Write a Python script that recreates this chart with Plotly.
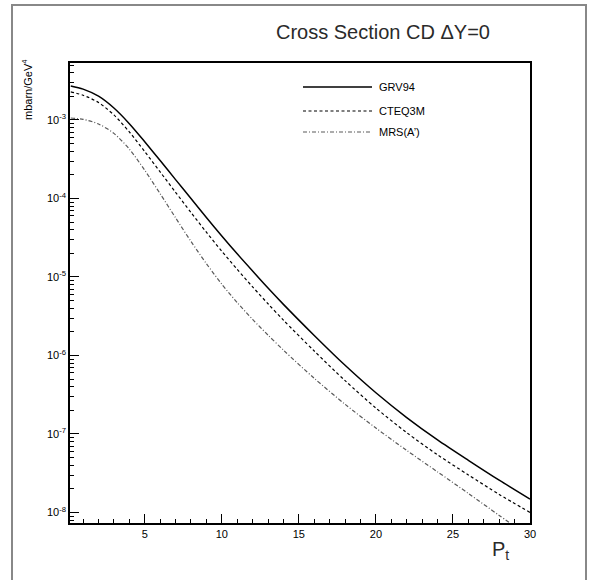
import plotly.graph_objects as go

# Transverse momentum grid (GeV)
pt = [0.2, 1, 2, 3, 4, 5, 6, 7, 8, 9, 10, 11, 12, 13, 14, 16, 18, 20, 22, 24, 26, 28, 30]

# Cross sections in mbarn/GeV^4 for three parton distribution sets
grv94 = [2.71e-3, 2.47e-3, 2.01e-3, 1.42e-3, 8.97e-4, 5.28e-4, 3.04e-4, 1.74e-4, 9.98e-5,
         5.71e-5, 3.33e-5, 1.97e-5, 1.19e-5, 7.23e-6, 4.48e-6, 1.80e-6, 7.50e-7, 3.35e-7,
         1.62e-7, 8.41e-8, 4.62e-8, 2.58e-8, 1.48e-8]
cteq3m = [2.28e-3, 2.07e-3, 1.67e-3, 1.16e-3, 7.05e-4, 3.96e-4, 2.18e-4, 1.20e-4, 6.64e-5,
          3.72e-5, 2.13e-5, 1.25e-5, 7.48e-6, 4.56e-6, 2.82e-6, 1.14e-6, 4.78e-7, 2.14e-7,
          1.04e-7, 5.43e-8, 3.01e-8, 1.70e-8, 1.00e-8]
mrs_a = [1.06e-3, 1.02e-3, 8.89e-4, 6.75e-4, 4.26e-4, 2.29e-4, 1.15e-4, 5.68e-5, 2.84e-5,
         1.48e-5, 8.11e-6, 4.72e-6, 2.88e-6, 1.82e-6, 1.17e-6, 5.12e-7, 2.39e-7, 1.19e-7,
         6.18e-8, 3.29e-8, 1.75e-8, 9.18e-9, 4.82e-9]

series_names = ["GRV94", "CTEQ3M", "MRS(A\u2019)"]
x_ticks = [5, 10, 15, 20, 25, 30]
y_exponents = [-8, -7, -6, -5, -4, -3]

styles = [
    dict(color="black", width=1.5, dash="solid"),
    dict(color="black", width=1.2, dash="3px,2.5px"),
    dict(color="#5a5a5a", width=1.2, dash="4px,2px,1px,2px"),
]

fig = go.Figure()
for name, ys, st in zip(series_names, [grv94, cteq3m, mrs_a], styles):
    fig.add_trace(go.Scatter(x=pt, y=ys, mode="lines", name=name,
                             line=dict(shape="spline", smoothing=0.8, **st)))

font_main = "Liberation Sans, Arial, sans-serif"

fig.update_layout(
    width=589, height=580,
    margin=dict(l=70, r=59, t=63, b=57),
    paper_bgcolor="white", plot_bgcolor="white",
    showlegend=False,
    font=dict(family=font_main, color="black", size=11),
)

fig.update_xaxes(
    range=[0.15, 30], showgrid=False, zeroline=False,
    showline=True, linecolor="black", linewidth=1.5, mirror=True,
    ticks="inside", ticklen=9, tickwidth=1.3, tickcolor="black",
    tickvals=x_ticks, ticktext=[str(v) for v in x_ticks],
    tickfont=dict(size=11),
    minor=dict(ticks="inside", ticklen=4, tickwidth=1, tickcolor="black",
               dtick=1, tick0=0, showgrid=False),
)

minor_y = [m * 10.0 ** e for e in range(-9, -1) for m in range(2, 10)]
fig.update_yaxes(
    type="log", range=[-8.134, -2.274], showgrid=False, zeroline=False,
    showline=True, linecolor="black", linewidth=1.5, mirror=True,
    ticks="inside", ticklen=9, tickwidth=1.3, tickcolor="black",
    tickvals=[10.0 ** e for e in y_exponents],
    ticktext=["10<sup>%d</sup>" % e for e in y_exponents],
    tickfont=dict(size=11),
    minor=dict(ticks="inside", ticklen=4, tickwidth=1, tickcolor="black",
               tickvals=minor_y, showgrid=False),
)

# plot-area pixel geometry used to place decorations in paper units
L, T, W, H = 70, 63, 460, 460


def px(x):
    return (x - L) / W


def py(y):
    return (T + H - y) / H


# outer frame of the canvas
fig.add_shape(type="rect", xref="paper", yref="paper",
              x0=px(12), x1=px(586), y0=py(600), y1=py(5),
              line=dict(color="#888888", width=2), layer="below")

# hand-drawn key with long line samples
legend_rows = [87, 111, 132]
for name, st, yrow in zip(series_names, styles, legend_rows):
    fig.add_shape(type="line", xref="paper", yref="paper",
                  x0=px(303), x1=px(372), y0=py(yrow), y1=py(yrow),
                  line=dict(color=st["color"], width=st["width"], dash=st["dash"]))
    fig.add_annotation(xref="paper", yref="paper", x=px(377), y=py(yrow),
                       text=name, showarrow=False, xanchor="left", yanchor="middle",
                       font=dict(size=11, family=font_main))

fig.add_annotation(xref="paper", yref="paper", x=px(383), y=py(32),
                   text="Cross Section CD \u0394Y=0", showarrow=False,
                   xanchor="center", yanchor="middle",
                   font=dict(size=20, family=font_main, color="#2a2a2a"))

fig.add_annotation(xref="paper", yref="paper", x=px(27), y=py(90),
                   text="mbarn/GeV<sup>4</sup>", showarrow=False, textangle=-90,
                   xanchor="center", yanchor="middle",
                   font=dict(size=11, family=font_main))

fig.add_annotation(xref="paper", yref="paper", x=px(500), y=py(550),
                   text="P<sub>t</sub>", showarrow=False,
                   xanchor="center", yanchor="middle",
                   font=dict(size=20, family=font_main, color="#2a2a2a"))

fig.write_html("out.html")
